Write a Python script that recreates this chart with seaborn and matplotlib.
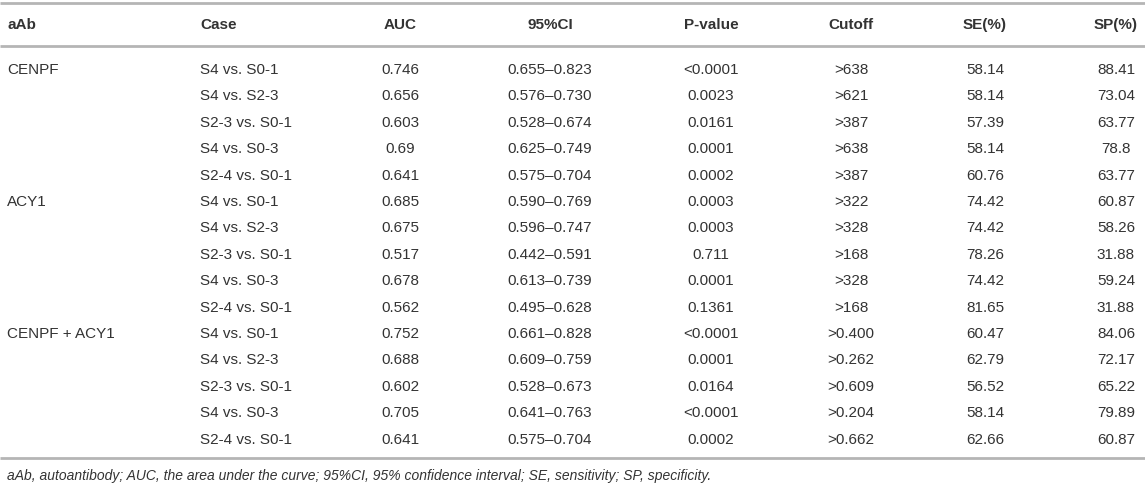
import matplotlib
matplotlib.use("Agg")
import matplotlib.pyplot as plt
import seaborn as sns

# table contents
headers = ["aAb", "Case", "AUC", "95%CI", "P-value", "Cutoff", "SE(%)", "SP(%)"]
antibodies = ["CENPF", "ACY1", "CENPF + ACY1"]
cases = ["S4 vs. S0-1", "S4 vs. S2-3", "S2-3 vs. S0-1", "S4 vs. S0-3", "S2-4 vs. S0-1"]
auc = ["0.746", "0.656", "0.603", "0.69", "0.641",
       "0.685", "0.675", "0.517", "0.678", "0.562",
       "0.752", "0.688", "0.602", "0.705", "0.641"]
ci = ["0.655\u20130.823", "0.576\u20130.730", "0.528\u20130.674", "0.625\u20130.749", "0.575\u20130.704",
      "0.590\u20130.769", "0.596\u20130.747", "0.442\u20130.591", "0.613\u20130.739", "0.495\u20130.628",
      "0.661\u20130.828", "0.609\u20130.759", "0.528\u20130.673", "0.641\u20130.763", "0.575\u20130.704"]
p_value = ["<0.0001", "0.0023", "0.0161", "0.0001", "0.0002",
           "0.0003", "0.0003", "0.711", "0.0001", "0.1361",
           "<0.0001", "0.0001", "0.0164", "<0.0001", "0.0002"]
cutoff = [">638", ">621", ">387", ">638", ">387",
          ">322", ">328", ">168", ">328", ">168",
          ">0.400", ">0.262", ">0.609", ">0.204", ">0.662"]
se = ["58.14", "58.14", "57.39", "58.14", "60.76",
      "74.42", "74.42", "78.26", "74.42", "81.65",
      "60.47", "62.79", "56.52", "58.14", "62.66"]
sp = ["88.41", "73.04", "63.77", "78.8", "63.77",
      "60.87", "58.26", "31.88", "59.24", "31.88",
      "84.06", "72.17", "65.22", "79.89", "60.87"]
footnote = ("aAb, autoantibody; AUC, the area under the curve; 95%CI, 95% confidence interval; "
            "SE, sensitivity; SP, specificity.")

sns.set_theme(style="white")
plt.rcParams["font.family"] = ["Liberation Sans", "DejaVu Sans"]

W, H = 1145, 488
fig = plt.figure(figsize=(W / 100, H / 100), dpi=100)
ax = fig.add_axes([0, 0, 1, 1])
ax.set_xlim(0, W)
ax.set_ylim(H, 0)
ax.axis("off")

txt = "#333333"
line_c = "#b5b5b5"
fs = 11

# column x positions and alignment
col_x = [7, 200, 400, 550, 711, 851, 985, 1116]
col_ha = ["left", "left", "center", "center", "center", "center", "center", "center"]

# rules
for y in [3, 46, 458]:
    ax.plot([0, W], [y, y], color=line_c, lw=2, solid_capstyle="butt")

# header
for x, ha, h in zip(col_x, col_ha, headers):
    ax.text(x, 25, h, ha=ha, va="center", fontsize=fs, fontweight="bold", color=txt)

row0, step = 70, 26.4
n_case = len(cases)
columns = [auc, ci, p_value, cutoff, se, sp]
for i in range(len(auc)):
    y = row0 + i * step
    if i % n_case == 0:
        ax.text(col_x[0], y, antibodies[i // n_case], ha="left", va="center", fontsize=fs, color=txt)
    ax.text(col_x[1], y, cases[i % n_case], ha="left", va="center", fontsize=fs, color=txt)
    for x, ha, col in zip(col_x[2:], col_ha[2:], columns):
        ax.text(x, y, col[i], ha=ha, va="center", fontsize=fs, color=txt)

ax.text(7, 476, footnote, ha="left", va="center", fontsize=10, style="italic", color=txt)

fig.savefig("out.png", dpi=100)
